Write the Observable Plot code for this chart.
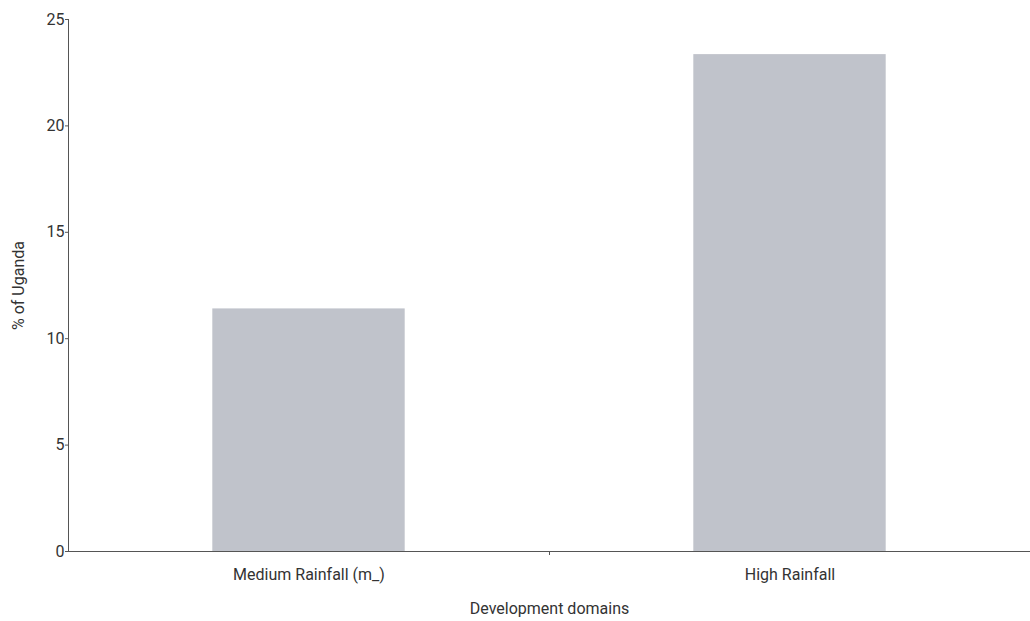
<!DOCTYPE html>
<html>
<head>
<meta charset="utf-8">
<script src="https://cdn.jsdelivr.net/npm/d3@7"></script>
<script src="https://cdn.jsdelivr.net/npm/@observablehq/plot@0.6"></script>
<style>
  html, body { margin: 0; padding: 0; background: #fff; }
  #chart svg { display: block; }
</style>
</head>
<body>
<div id="chart"></div>
<script>
// Data
const categories = ["Medium Rainfall (m_)", "High Rainfall"];
const values = [11.4, 23.35];
const yTicks = [0, 5, 10, 15, 20, 25];
const xLabel = "Development domains";
const yLabel = "% of Uganda";

const data = categories.map((c, i) => ({category: c, index: i, value: values[i]}));
const barHalf = 0.2;
const font = "Roboto, sans-serif";

const chart = Plot.plot({
  width: 1030,
  height: 621,
  marginLeft: 68,
  marginRight: 0,
  marginTop: 19,
  marginBottom: 70,
  style: {fontFamily: font, fontSize: "16px", color: "#333", background: "#fff"},
  x: {type: "linear", domain: [0, categories.length], axis: null},
  y: {domain: [0, 25], axis: null},
  marks: [
    Plot.rectY(data, {
      x1: d => d.index + 0.5 - barHalf,
      x2: d => d.index + 0.5 + barHalf,
      y: "value",
      fill: "#c0c3cb"
    }),
    Plot.ruleX([0], {y1: 0, y2: 25, stroke: "#555", strokeWidth: 1}),
    Plot.ruleY([0], {stroke: "#555", strokeWidth: 1}),
    Plot.axisY({
      ticks: yTicks,
      tickSize: 3,
      tickPadding: 1,
      stroke: "#555",
      fill: "#333",
      fontSize: 16,
      label: null
    }),
    Plot.axisX({
      ticks: categories.map((c, i) => i + 0.5),
      tickFormat: v => categories[Math.round(v - 0.5)],
      tickSize: 0,
      tickPadding: 17,
      fill: "#333",
      fontSize: 16,
      label: null
    }),
    Plot.axisX({
      ticks: d3.range(1, categories.length),
      tickFormat: () => "",
      tickSize: 4,
      stroke: "#555",
      label: null
    }),
    Plot.text([xLabel], {frameAnchor: "bottom", dy: 62, fontSize: 16, fill: "#333"}),
    Plot.text([yLabel], {frameAnchor: "left", textAnchor: "middle", dx: -50, rotate: -90, fontSize: 16, fill: "#333"})
  ]
});

document.getElementById("chart").appendChild(chart);
</script>
</body>
</html>
